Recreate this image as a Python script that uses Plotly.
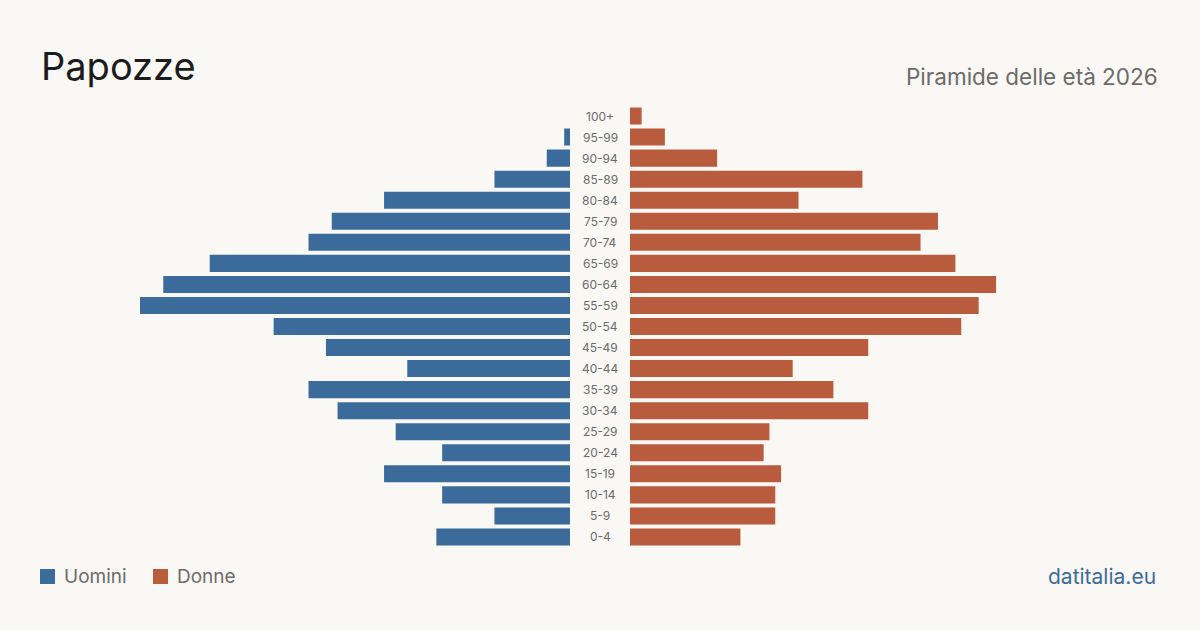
import plotly.graph_objects as go

age_groups = ["0-4", "5-9", "10-14", "15-19", "20-24", "25-29", "30-34", "35-39",
              "40-44", "45-49", "50-54", "55-59", "60-64", "65-69", "70-74",
              "75-79", "80-84", "85-89", "90-94", "95-99", "100+"]
men = [23, 13, 22, 32, 22, 30, 40, 45, 28, 42, 51, 74, 70, 62, 45, 41, 32, 13, 4, 1, 0]
women = [19, 25, 25, 26, 23, 24, 41, 35, 28, 41, 57, 60, 63, 56, 50, 53, 29, 40, 15, 6, 2]

series_names = ["Uomini", "Donne"]
title = "Papozze"
subtitle = "Piramide delle età 2026"
source = "datitalia.eu"

BLUE = "#3b6b9b"
ORANGE = "#b95c3d"
BG = "#f9f8f4"
W, H = 1200, 630
xmax = 74

fig = go.Figure()
fig.add_trace(go.Bar(y=age_groups, x=men, orientation="h", name=series_names[0],
                     marker=dict(color=BLUE, line=dict(width=0)), xaxis="x", yaxis="y",
                     hoverinfo="x+y"))
fig.add_trace(go.Bar(y=age_groups, x=women, orientation="h", name=series_names[1],
                     marker=dict(color=ORANGE, line=dict(width=0)), xaxis="x2", yaxis="y",
                     hoverinfo="x+y"))

for ag in age_groups:
    fig.add_annotation(x=600 / W, xref="paper", y=ag, yref="y", text=ag, showarrow=False,
                       font=dict(family="Inter", size=12, color="#6b6b6b"),
                       xanchor="center", yanchor="middle")

fig.add_annotation(x=39 / W, y=1 - 66 / H, xref="paper", yref="paper", text=title,
                   showarrow=False, xanchor="left", yanchor="middle",
                   font=dict(family="Inter", size=38, color="#1c1c1c"))
fig.add_annotation(x=1160 / W, y=1 - 76 / H, xref="paper", yref="paper", text=subtitle,
                   showarrow=False, xanchor="right", yanchor="middle",
                   font=dict(family="Inter", size=22.5, color="#6b6b6b"))
fig.add_annotation(x=1158 / W, y=1 - 576 / H, xref="paper", yref="paper", text=source,
                   showarrow=False, xanchor="right", yanchor="middle",
                   font=dict(family="Inter", size=21, color=BLUE))

# custom legend
legend_items = [(series_names[0], BLUE, 40), (series_names[1], ORANGE, 153)]
for name, col, x0 in legend_items:
    fig.add_shape(type="rect", xref="paper", yref="paper",
                  x0=x0 / W, x1=(x0 + 15) / W, y0=1 - 584 / H, y1=1 - 569 / H,
                  fillcolor=col, line=dict(width=0))
    fig.add_annotation(x=(x0 + 22) / W, y=1 - 576 / H, xref="paper", yref="paper",
                       text=name, showarrow=False, xanchor="left", yanchor="middle",
                       font=dict(family="Inter", size=19, color="#6b6b6b"))

fig.update_layout(
    width=W, height=H,
    margin=dict(l=0, r=0, t=0, b=0),
    paper_bgcolor=BG, plot_bgcolor=BG,
    barmode="overlay", bargap=0.19,
    showlegend=False,
    xaxis=dict(domain=[140 / W, 570 / W], range=[xmax, 0], visible=False, fixedrange=True),
    xaxis2=dict(domain=[630 / W, 1060 / W], range=[0, xmax], visible=False, fixedrange=True),
    yaxis=dict(domain=[(H - 547.5) / H, (H - 105.5) / H], type="category",
               categoryorder="array", categoryarray=age_groups,
               visible=False, fixedrange=True),
    font=dict(family="Inter"),
)

fig.write_html("out.html")
